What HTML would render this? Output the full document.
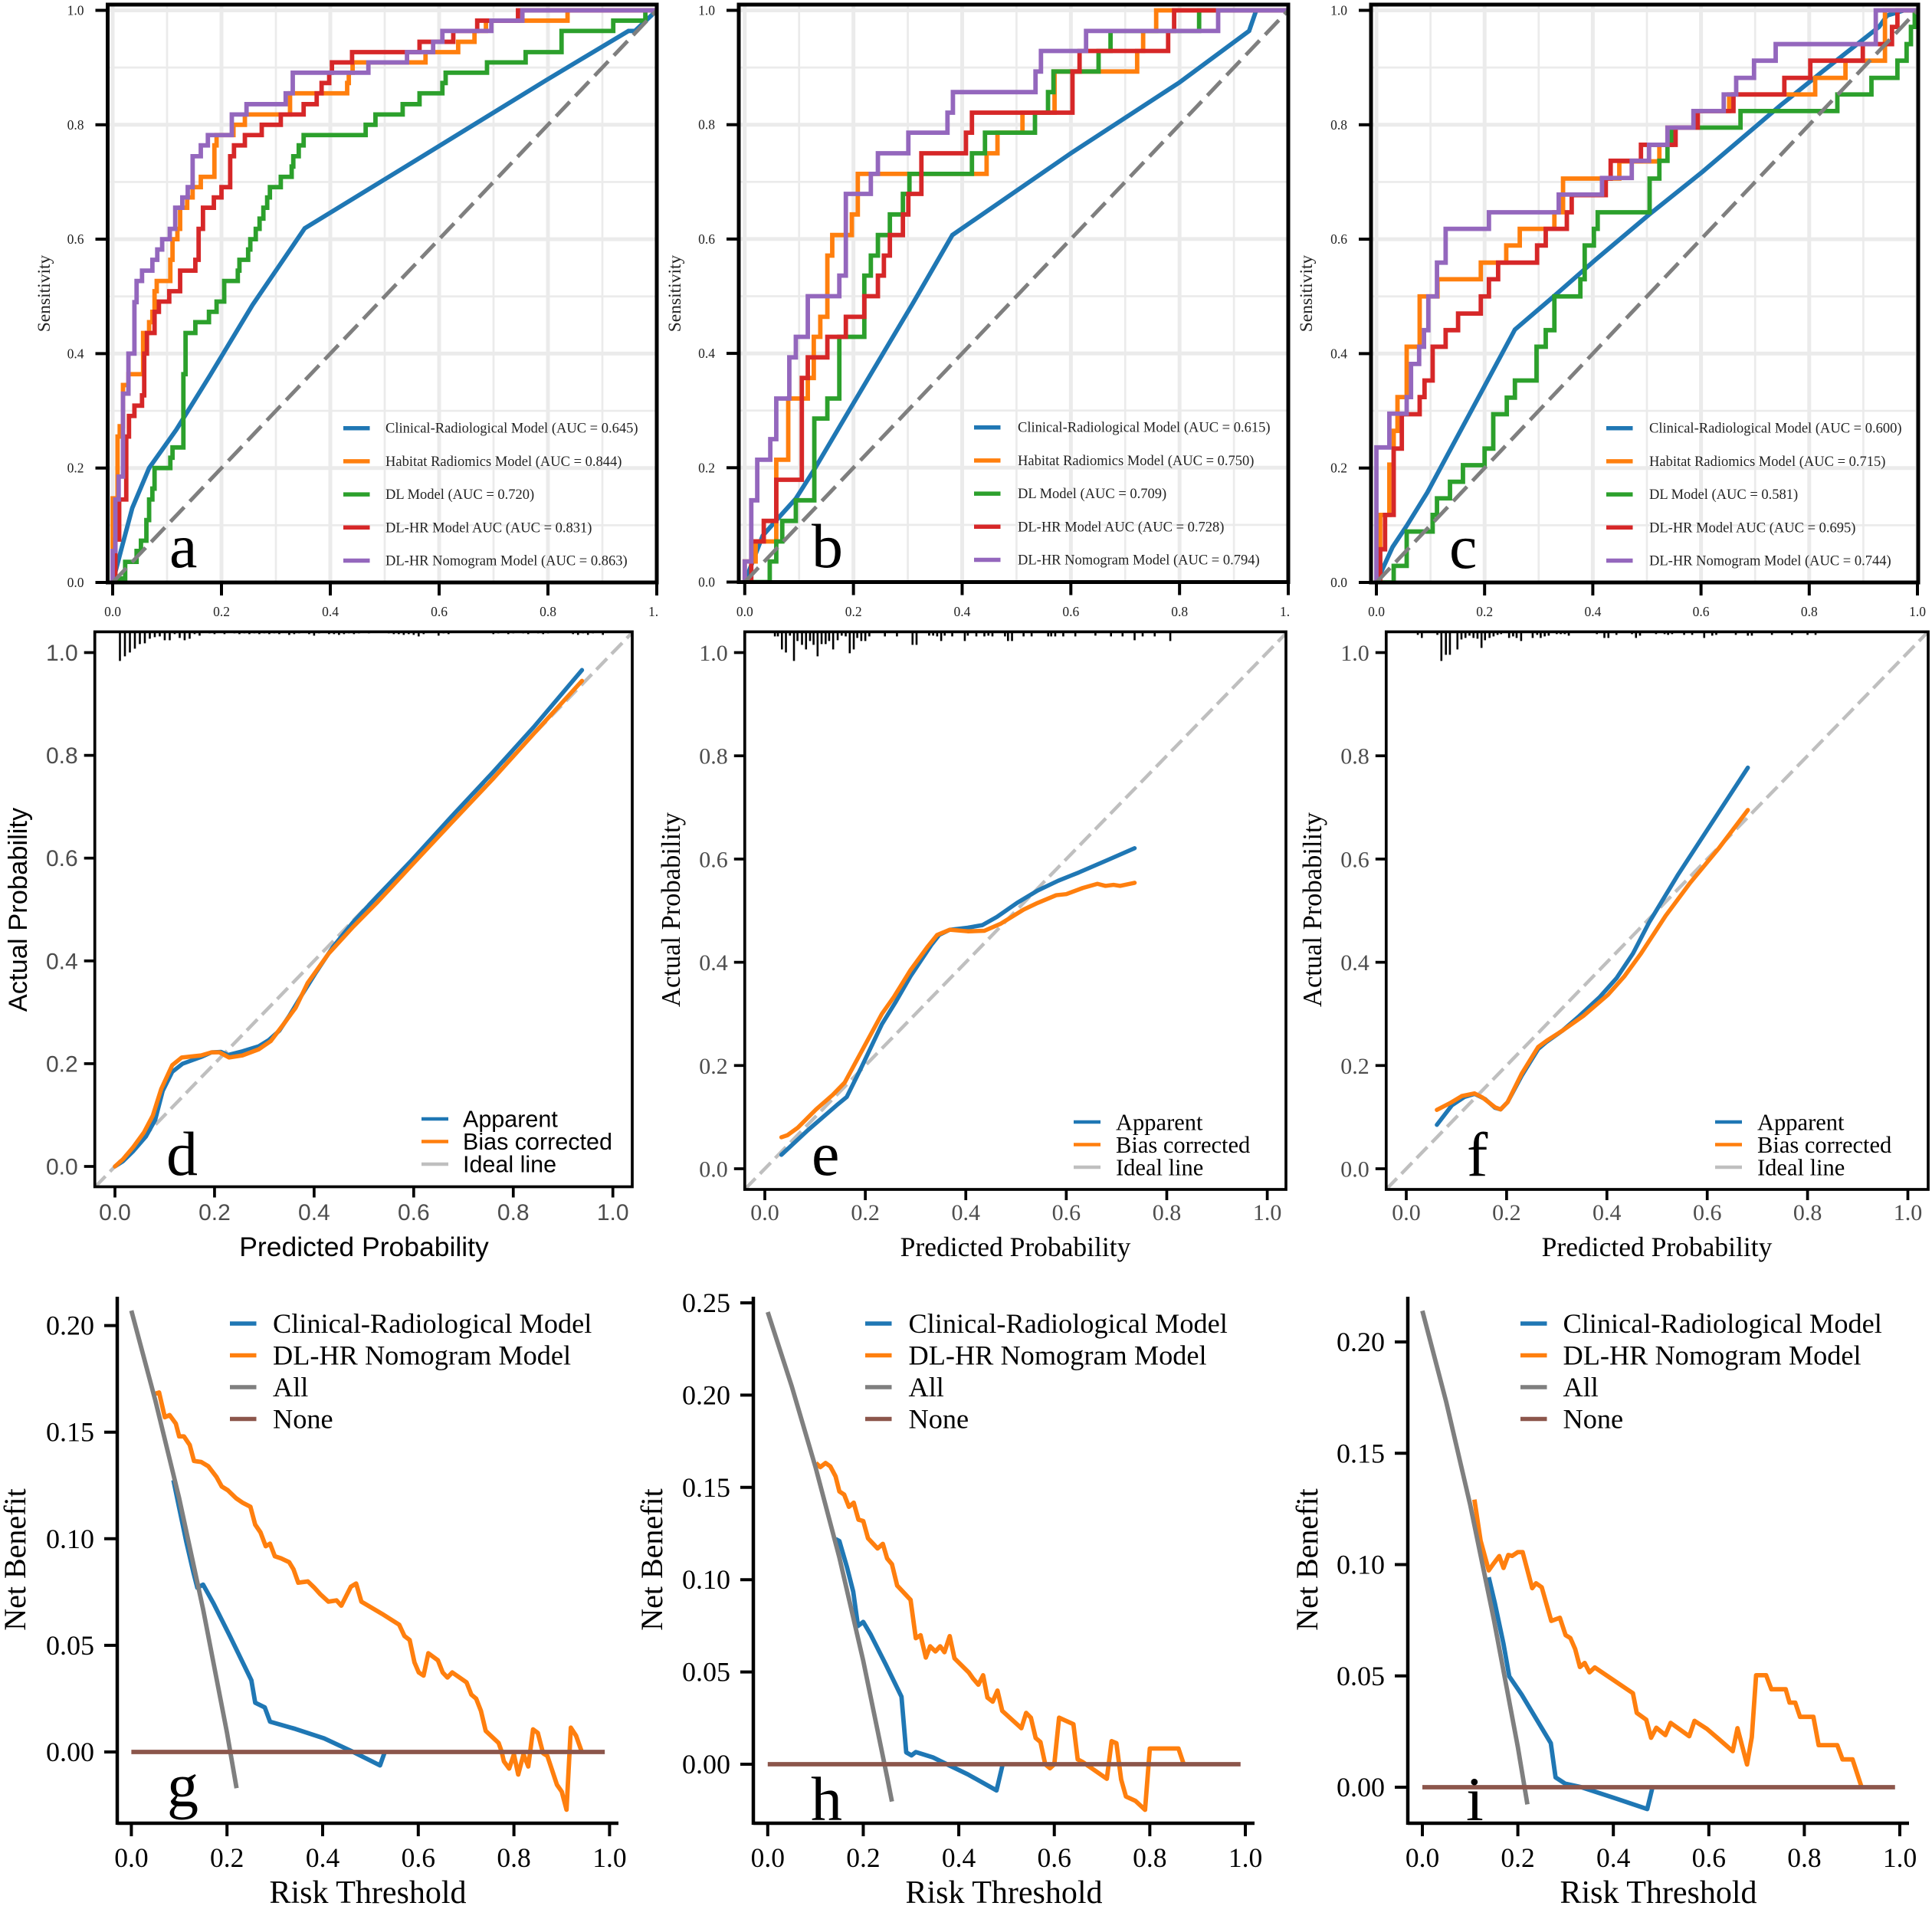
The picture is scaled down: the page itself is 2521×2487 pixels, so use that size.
<!DOCTYPE html>
<html lang="en">
<head>
<meta charset="utf-8">
<title>ROC, calibration and decision curves</title>
<style>
html,body{margin:0;padding:0;background:#fff;width:2521px;height:2487px;overflow:hidden}
svg{display:block}
</style>
</head>
<body>
<svg id="fig" xmlns="http://www.w3.org/2000/svg" width="2521" height="2487" viewBox="0 0 2521 2487">
<rect x="0" y="0" width="2521" height="2487" fill="#ffffff"/>
</svg>
<script>
/* ---------- shared tick values and labels ---------- */
const rocTickValues = [0, 0.2, 0.4, 0.6, 0.8, 1];
const rocTickLabels = ['0.0', '0.2', '0.4', '0.6', '0.8', '1.0'];
const rocMinorGrid = [0.1, 0.3, 0.5, 0.7, 0.9];
const rocModelNames = ['Clinical-Radiological Model', 'Habitat Radiomics Model', 'DL Model', 'DL-HR Model AUC', 'DL-HR Nomogram Model'];
const calLegendNames = ['Apparent', 'Bias corrected', 'Ideal line'];
const dcaLegendNames = ['Clinical-Radiological Model', 'DL-HR Nomogram Model', 'All', 'None'];
const dcaXTicks = [0, 0.2, 0.4, 0.6, 0.8, 1];
const dcaXTickLabels = ['0.0', '0.2', '0.4', '0.6', '0.8', '1.0'];
const dcaYTicksG = [0, 0.05, 0.1, 0.15, 0.2];
const dcaYTickLabelsG = ['0.00', '0.05', '0.10', '0.15', '0.20'];
const dcaYTicksH = [0, 0.05, 0.1, 0.15, 0.2, 0.25];
const dcaYTickLabelsH = ['0.00', '0.05', '0.10', '0.15', '0.20', '0.25'];
const dcaYTicksI = [0, 0.05, 0.1, 0.15, 0.2];
const dcaYTickLabelsI = ['0.00', '0.05', '0.10', '0.15', '0.20'];

/* ---------- ROC panel a ---------- */
const aucA = ['0.645', '0.844', '0.720', '0.831', '0.863'];
const rocAClinicalFpr = [0, 0.017, 0.036, 0.067, 0.117, 0.179, 0.257, 0.353, 0.566, 0.797, 0.948, 0.96, 1];
const rocAClinicalTpr = [0, 0.062, 0.13, 0.2, 0.267, 0.362, 0.485, 0.619, 0.743, 0.878, 0.964, 0.964, 1];
const rocAHabitatFpr = [0, 0.009, 0.013, 0.019, 0.029, 0.056, 0.067, 0.073, 0.077, 0.081, 0.106, 0.11, 0.119, 0.124, 0.137, 0.147, 0.162, 0.187, 0.191, 0.222, 0.243, 0.326, 0.431, 0.434, 0.441, 0.575, 0.635, 0.665, 0.686, 0.836, 1];
const rocAHabitatTpr = [0.147, 0.255, 0.273, 0.345, 0.364, 0.436, 0.455, 0.473, 0.509, 0.527, 0.564, 0.6, 0.618, 0.655, 0.673, 0.691, 0.709, 0.764, 0.782, 0.8, 0.818, 0.855, 0.873, 0.891, 0.909, 0.927, 0.945, 0.964, 0.982, 1, 1];
const rocADlFpr = [0.003, 0.023, 0.044, 0.052, 0.062, 0.067, 0.073, 0.077, 0.106, 0.11, 0.13, 0.134, 0.152, 0.177, 0.191, 0.205, 0.23, 0.233, 0.249, 0.253, 0.263, 0.27, 0.277, 0.284, 0.289, 0.309, 0.329, 0.332, 0.342, 0.351, 0.465, 0.483, 0.533, 0.564, 0.606, 0.612, 0.688, 0.759, 0.825, 0.92, 0.979];
const rocADlTpr = [0.007, 0.036, 0.055, 0.073, 0.109, 0.145, 0.164, 0.2, 0.218, 0.236, 0.364, 0.436, 0.455, 0.473, 0.491, 0.527, 0.545, 0.564, 0.582, 0.6, 0.618, 0.636, 0.655, 0.673, 0.691, 0.709, 0.727, 0.745, 0.764, 0.782, 0.8, 0.818, 0.836, 0.855, 0.873, 0.891, 0.909, 0.927, 0.964, 0.982, 1];
const rocADlHrFpr = [0.005, 0.012, 0.025, 0.03, 0.04, 0.054, 0.058, 0.063, 0.077, 0.085, 0.104, 0.124, 0.152, 0.158, 0.166, 0.186, 0.2, 0.216, 0.223, 0.243, 0.274, 0.309, 0.351, 0.375, 0.384, 0.398, 0.403, 0.44, 0.564, 0.626, 0.67, 0.745];
const rocADlHrTpr = [0.075, 0.145, 0.255, 0.291, 0.309, 0.327, 0.4, 0.436, 0.473, 0.491, 0.509, 0.545, 0.564, 0.618, 0.655, 0.673, 0.691, 0.745, 0.764, 0.782, 0.8, 0.818, 0.836, 0.855, 0.873, 0.891, 0.909, 0.927, 0.945, 0.964, 0.982, 1];
const rocANomogramFpr = [0, 0.005, 0.011, 0.019, 0.029, 0.04, 0.044, 0.054, 0.073, 0.082, 0.091, 0.105, 0.115, 0.128, 0.138, 0.147, 0.162, 0.175, 0.219, 0.246, 0.318, 0.331, 0.47, 0.541, 0.589, 0.606, 0.696, 0.753];
const rocANomogramTpr = [0.055, 0.145, 0.185, 0.33, 0.4, 0.49, 0.527, 0.545, 0.564, 0.582, 0.6, 0.618, 0.655, 0.673, 0.691, 0.745, 0.764, 0.782, 0.818, 0.836, 0.855, 0.891, 0.909, 0.927, 0.945, 0.964, 0.982, 1];

/* ---------- ROC panel b ---------- */
const aucB = ['0.615', '0.750', '0.709', '0.728', '0.794'];
const rocBClinicalFpr = [0, 0.033, 0.058, 0.094, 0.128, 0.192, 0.309, 0.382, 0.6, 0.8, 0.928, 0.941, 1];
const rocBClinicalTpr = [0, 0.081, 0.108, 0.146, 0.197, 0.3, 0.487, 0.607, 0.75, 0.874, 0.964, 1, 1];
const rocBHabitatFpr = [0, 0.02, 0.058, 0.08, 0.116, 0.127, 0.139, 0.152, 0.161, 0.197, 0.208, 0.445, 0.465, 0.511, 0.57, 0.722, 0.733, 0.757, 1];
const rocBHabitatTpr = [0.036, 0.071, 0.214, 0.321, 0.357, 0.429, 0.464, 0.571, 0.607, 0.643, 0.714, 0.75, 0.786, 0.821, 0.893, 0.929, 0.964, 1, 1];
const rocBDlFpr = [0.046, 0.058, 0.069, 0.094, 0.128, 0.152, 0.174, 0.22, 0.232, 0.245, 0.267, 0.291, 0.303, 0.418, 0.442, 0.534, 0.558, 0.568, 0.651, 0.673, 0.836];
const rocBDlTpr = [0.036, 0.071, 0.107, 0.143, 0.286, 0.321, 0.429, 0.536, 0.571, 0.607, 0.643, 0.679, 0.714, 0.75, 0.786, 0.821, 0.857, 0.893, 0.929, 0.964, 1];
const rocBDlHrFpr = [0.012, 0.035, 0.058, 0.105, 0.116, 0.152, 0.186, 0.22, 0.245, 0.256, 0.267, 0.291, 0.301, 0.325, 0.407, 0.418, 0.603, 0.616, 0.779, 0.79];
const rocBDlHrTpr = [0.071, 0.107, 0.179, 0.357, 0.393, 0.429, 0.464, 0.5, 0.536, 0.571, 0.607, 0.643, 0.679, 0.75, 0.786, 0.821, 0.893, 0.929, 0.964, 1];
const rocBNomogramFpr = [0, 0.012, 0.023, 0.047, 0.058, 0.082, 0.094, 0.116, 0.174, 0.186, 0.232, 0.245, 0.301, 0.373, 0.383, 0.535, 0.545, 0.628, 0.871];
const rocBNomogramTpr = [0.036, 0.143, 0.214, 0.25, 0.321, 0.393, 0.429, 0.5, 0.536, 0.679, 0.714, 0.75, 0.786, 0.821, 0.857, 0.893, 0.929, 0.964, 1];

/* ---------- ROC panel c ---------- */
const aucC = ['0.600', '0.715', '0.581', '0.695', '0.744'];
const rocCClinicalFpr = [0, 0.03, 0.056, 0.094, 0.14, 0.193, 0.256, 0.329, 0.405, 0.504, 0.603, 0.747, 0.823, 0.929, 0.944, 0.975, 1];
const rocCClinicalTpr = [0, 0.062, 0.099, 0.157, 0.238, 0.331, 0.442, 0.501, 0.564, 0.643, 0.718, 0.834, 0.892, 0.971, 0.991, 1, 1];
const rocCHabitatFpr = [0.007, 0.024, 0.032, 0.039, 0.056, 0.08, 0.113, 0.193, 0.24, 0.265, 0.329, 0.345, 0.449, 0.523, 0.538, 0.587, 0.652, 0.811, 0.867, 0.94];
const rocCHabitatTpr = [0.118, 0.206, 0.265, 0.324, 0.412, 0.5, 0.53, 0.559, 0.589, 0.618, 0.647, 0.706, 0.736, 0.765, 0.795, 0.824, 0.853, 0.882, 0.912, 1];
const rocCDlFpr = [0.032, 0.056, 0.104, 0.112, 0.136, 0.16, 0.2, 0.216, 0.241, 0.256, 0.296, 0.313, 0.329, 0.377, 0.385, 0.402, 0.409, 0.505, 0.523, 0.538, 0.546, 0.673, 0.852, 0.915, 0.963, 0.98, 0.988, 0.995];
const rocCDlTpr = [0.029, 0.089, 0.118, 0.147, 0.176, 0.205, 0.234, 0.294, 0.323, 0.353, 0.412, 0.441, 0.5, 0.53, 0.589, 0.618, 0.647, 0.706, 0.737, 0.765, 0.795, 0.824, 0.853, 0.882, 0.912, 0.941, 0.971, 1];
const rocCDlHrFpr = [0.007, 0.016, 0.032, 0.047, 0.08, 0.089, 0.104, 0.128, 0.151, 0.193, 0.208, 0.225, 0.297, 0.313, 0.352, 0.361, 0.424, 0.433, 0.489, 0.553, 0.594, 0.66, 0.754, 0.802, 0.899, 0.953, 0.963];
const rocCDlHrTpr = [0.058, 0.118, 0.234, 0.294, 0.324, 0.353, 0.412, 0.441, 0.47, 0.5, 0.53, 0.559, 0.589, 0.618, 0.647, 0.677, 0.706, 0.737, 0.765, 0.795, 0.824, 0.853, 0.882, 0.912, 0.941, 0.971, 1];
const rocCNomogramFpr = [0, 0.024, 0.056, 0.064, 0.079, 0.088, 0.096, 0.112, 0.128, 0.208, 0.337, 0.417, 0.472, 0.504, 0.538, 0.586, 0.642, 0.665, 0.698, 0.738, 0.923];
const rocCNomogramTpr = [0.236, 0.295, 0.324, 0.382, 0.412, 0.441, 0.5, 0.559, 0.618, 0.647, 0.678, 0.707, 0.737, 0.765, 0.795, 0.824, 0.853, 0.882, 0.912, 0.941, 1];

/* ---------- calibration panel d ---------- */
const calDApparentX = [0, 0.016, 0.037, 0.062, 0.081, 0.096, 0.115, 0.136, 0.173, 0.194, 0.213, 0.227, 0.256, 0.289, 0.309, 0.33, 0.35, 0.375, 0.404, 0.437, 0.478, 0.528, 0.594, 0.676, 0.758, 0.841, 0.938];
const calDApparentY = [0, 0.01, 0.03, 0.058, 0.091, 0.147, 0.184, 0.2, 0.213, 0.222, 0.223, 0.217, 0.224, 0.234, 0.246, 0.264, 0.293, 0.333, 0.378, 0.426, 0.475, 0.527, 0.594, 0.681, 0.766, 0.855, 0.966];
const calDBiasX = [0, 0.016, 0.037, 0.058, 0.076, 0.093, 0.115, 0.134, 0.173, 0.194, 0.21, 0.229, 0.256, 0.289, 0.313, 0.338, 0.363, 0.387, 0.429, 0.478, 0.528, 0.594, 0.676, 0.758, 0.841, 0.938];
const calDBiasY = [0, 0.014, 0.038, 0.066, 0.099, 0.151, 0.197, 0.212, 0.216, 0.222, 0.222, 0.212, 0.216, 0.228, 0.244, 0.276, 0.309, 0.357, 0.414, 0.466, 0.515, 0.584, 0.669, 0.753, 0.842, 0.945];
const calDRugX = [0.01, 0.02, 0.03, 0.04, 0.05, 0.06, 0.07, 0.08, 0.09, 0.1, 0.11, 0.12, 0.13, 0.14, 0.15, 0.16, 0.17, 0.19, 0.2, 0.22, 0.24, 0.25, 0.26, 0.27, 0.28, 0.29, 0.3, 0.31, 0.32, 0.33, 0.35, 0.36, 0.37, 0.39, 0.4, 0.41, 0.43, 0.44, 0.45, 0.46, 0.47, 0.48, 0.49, 0.51, 0.55, 0.56, 0.57, 0.58, 0.59, 0.6, 0.61, 0.62, 0.65, 0.66, 0.67, 0.76, 0.77, 0.79, 0.8, 0.82, 0.83, 0.85, 0.86, 0.87, 0.92, 0.93, 0.94, 0.95, 0.96, 0.98];
const calDRugCount = [38, 32, 27, 22, 16, 15, 9, 7, 6, 11, 11, 3, 8, 11, 9, 3, 5, 2, 3, 3, 2, 3, 2, 3, 2, 3, 2, 3, 2, 3, 4, 3, 2, 3, 5, 2, 3, 3, 4, 3, 2, 3, 2, 2, 2, 3, 3, 4, 3, 4, 6, 3, 5, 2, 3, 3, 2, 3, 2, 2, 3, 2, 3, 2, 3, 4, 2, 4, 2, 4];

/* ---------- calibration panel e ---------- */
const calEApparentX = [0.033, 0.086, 0.143, 0.163, 0.192, 0.233, 0.261, 0.29, 0.331, 0.347, 0.368, 0.404, 0.433, 0.462, 0.502, 0.543, 0.584, 0.625, 0.682, 0.736];
const calEApparentY = [0.027, 0.075, 0.123, 0.139, 0.196, 0.28, 0.324, 0.373, 0.433, 0.453, 0.463, 0.467, 0.472, 0.488, 0.515, 0.539, 0.558, 0.574, 0.598, 0.621];
const calEBiasX = [0.033, 0.045, 0.065, 0.102, 0.135, 0.159, 0.184, 0.233, 0.257, 0.29, 0.323, 0.343, 0.368, 0.404, 0.437, 0.47, 0.515, 0.543, 0.58, 0.6, 0.633, 0.662, 0.678, 0.694, 0.707, 0.736];
const calEBiasY = [0.061, 0.065, 0.079, 0.115, 0.143, 0.167, 0.212, 0.3, 0.333, 0.385, 0.429, 0.453, 0.463, 0.46, 0.461, 0.475, 0.502, 0.515, 0.53, 0.532, 0.544, 0.552, 0.548, 0.55, 0.548, 0.554];
const calERugX = [0.02, 0.026, 0.034, 0.042, 0.05, 0.058, 0.065, 0.074, 0.082, 0.09, 0.097, 0.105, 0.113, 0.121, 0.128, 0.136, 0.145, 0.153, 0.161, 0.169, 0.177, 0.184, 0.192, 0.2, 0.208, 0.239, 0.263, 0.294, 0.302, 0.327, 0.335, 0.343, 0.351, 0.358, 0.373, 0.398, 0.404, 0.421, 0.437, 0.445, 0.453, 0.478, 0.484, 0.492, 0.515, 0.531, 0.564, 0.57, 0.578, 0.594, 0.618, 0.658, 0.689, 0.712, 0.736, 0.752, 0.776, 0.807];
const calERugCount = [6, 6, 23, 27, 5, 38, 12, 17, 23, 12, 17, 32, 16, 16, 12, 23, 11, 5, 6, 28, 23, 8, 12, 12, 6, 6, 6, 17, 17, 5, 5, 6, 12, 5, 6, 12, 5, 6, 6, 5, 6, 6, 12, 12, 6, 6, 6, 6, 6, 6, 6, 5, 6, 6, 11, 6, 6, 12];

/* ---------- calibration panel f ---------- */
const calFApparentX = [0.061, 0.091, 0.116, 0.136, 0.157, 0.177, 0.188, 0.202, 0.23, 0.263, 0.28, 0.312, 0.345, 0.386, 0.419, 0.452, 0.484, 0.542, 0.599, 0.681];
const calFApparentY = [0.085, 0.123, 0.139, 0.145, 0.135, 0.118, 0.115, 0.129, 0.18, 0.232, 0.246, 0.268, 0.296, 0.333, 0.369, 0.417, 0.477, 0.57, 0.655, 0.777];
const calFBiasX = [0.061, 0.087, 0.111, 0.136, 0.152, 0.177, 0.188, 0.202, 0.23, 0.263, 0.28, 0.312, 0.353, 0.402, 0.435, 0.468, 0.517, 0.566, 0.624, 0.681];
const calFBiasY = [0.114, 0.127, 0.141, 0.146, 0.138, 0.119, 0.115, 0.129, 0.184, 0.236, 0.248, 0.268, 0.296, 0.337, 0.373, 0.417, 0.49, 0.554, 0.622, 0.695];
const calFRugX = [0.023, 0.031, 0.062, 0.07, 0.079, 0.087, 0.102, 0.11, 0.118, 0.126, 0.134, 0.142, 0.15, 0.157, 0.166, 0.174, 0.182, 0.189, 0.205, 0.213, 0.22, 0.229, 0.252, 0.261, 0.268, 0.276, 0.284, 0.3, 0.308, 0.316, 0.324, 0.38, 0.395, 0.403, 0.419, 0.45, 0.458, 0.466, 0.498, 0.515, 0.522, 0.53, 0.554, 0.57, 0.594, 0.61, 0.618, 0.657, 0.681, 0.689, 0.729, 0.769, 0.8, 0.816];
const calFRugCount = [4, 8, 4, 38, 30, 30, 23, 10, 8, 5, 8, 9, 21, 11, 8, 6, 4, 3, 8, 6, 8, 12, 8, 4, 8, 6, 5, 3, 3, 3, 5, 3, 8, 8, 4, 3, 8, 5, 3, 3, 4, 3, 4, 4, 8, 5, 4, 4, 5, 5, 4, 4, 4, 4];

/* ---------- decision curve panel g ---------- */
const dcaGClinicalT = [0.088, 0.1, 0.115, 0.13, 0.138, 0.15, 0.172, 0.206, 0.251, 0.259, 0.279, 0.29, 0.343, 0.403, 0.464, 0.52, 0.53];
const dcaGClinicalNb = [0.1275, 0.1145, 0.0985, 0.084, 0.077, 0.0785, 0.0696, 0.0544, 0.0336, 0.0231, 0.0209, 0.0142, 0.0108, 0.0064, 0, -0.0063, 0];
const dcaGNomogramT = [0.05, 0.058, 0.07, 0.08, 0.093, 0.1, 0.11, 0.122, 0.131, 0.146, 0.161, 0.178, 0.189, 0.202, 0.219, 0.232, 0.249, 0.259, 0.27, 0.281, 0.29, 0.3, 0.313, 0.33, 0.339, 0.349, 0.369, 0.382, 0.395, 0.412, 0.429, 0.439, 0.459, 0.47, 0.481, 0.524, 0.56, 0.571, 0.582, 0.592, 0.601, 0.611, 0.621, 0.641, 0.651, 0.661, 0.671, 0.701, 0.711, 0.721, 0.731, 0.741, 0.768, 0.774, 0.779, 0.79, 0.8, 0.809, 0.82, 0.83, 0.84, 0.85, 0.861, 0.87, 0.89, 0.9, 0.91, 0.919, 0.93, 0.942];
const dcaGNomogramNb = [0.168, 0.1686, 0.157, 0.158, 0.154, 0.148, 0.148, 0.144, 0.1365, 0.136, 0.134, 0.129, 0.1245, 0.1227, 0.119, 0.117, 0.115, 0.1066, 0.103, 0.0965, 0.0977, 0.0918, 0.0908, 0.089, 0.0857, 0.0794, 0.08, 0.0772, 0.074, 0.0705, 0.0711, 0.0686, 0.0775, 0.079, 0.0705, 0.0648, 0.0597, 0.0544, 0.0525, 0.042, 0.0373, 0.0358, 0.0463, 0.043, 0.0373, 0.0349, 0.0373, 0.0326, 0.0269, 0.025, 0.0193, 0.0099, 0.0042, 0.0004, -0.0044, -0.0078, -0.0011, -0.0106, -0.0011, -0.0068, 0.0106, 0.0089, -0.0006, -0.0019, -0.0154, -0.0186, -0.0271, 0.0114, 0.0076, 0];
const dcaGAllT = [0, 0.05, 0.1, 0.15, 0.2, 0.22];
const dcaGAllNb = [0.207, 0.165, 0.119, 0.067, 0.009, -0.017];
const dcaGNoneT = [0, 0.99];
const dcaGNoneNb = [0, 0];

/* ---------- decision curve panel h ---------- */
const dcaHClinicalT = [0.142, 0.15, 0.166, 0.179, 0.189, 0.2, 0.215, 0.247, 0.28, 0.29, 0.301, 0.31, 0.346, 0.375, 0.419, 0.479, 0.492];
const dcaHClinicalNb = [0.122, 0.1209, 0.1067, 0.0935, 0.0749, 0.0771, 0.0705, 0.0541, 0.0366, 0.0064, 0.0048, 0.0066, 0.0037, 0, -0.0055, -0.0142, 0];
const dcaHNomogramT = [0.101, 0.11, 0.121, 0.131, 0.142, 0.15, 0.16, 0.17, 0.18, 0.19, 0.2, 0.21, 0.23, 0.241, 0.25, 0.26, 0.271, 0.299, 0.31, 0.32, 0.331, 0.34, 0.351, 0.361, 0.37, 0.381, 0.391, 0.421, 0.43, 0.441, 0.451, 0.46, 0.471, 0.481, 0.491, 0.531, 0.541, 0.551, 0.561, 0.571, 0.581, 0.591, 0.6, 0.61, 0.64, 0.649, 0.66, 0.71, 0.72, 0.73, 0.74, 0.75, 0.77, 0.79, 0.8, 0.86, 0.871];
const dcaHNomogramNb = [0.1632, 0.161, 0.1632, 0.1614, 0.156, 0.1478, 0.1461, 0.1395, 0.1417, 0.1325, 0.1318, 0.1224, 0.1169, 0.1194, 0.1115, 0.1084, 0.0968, 0.0891, 0.0683, 0.0699, 0.0578, 0.0639, 0.0611, 0.0639, 0.0607, 0.0694, 0.0574, 0.0497, 0.0464, 0.0431, 0.0482, 0.0361, 0.0339, 0.0399, 0.0289, 0.0195, 0.0278, 0.0252, 0.0142, 0.012, 0, -0.0022, 0, 0.0252, 0.0217, 0.0026, 0.0011, -0.0079, 0.0125, 0.0114, -0.0083, -0.0175, -0.0199, -0.0247, 0.0085, 0.0085, 0];
const dcaHAllT = [0, 0.05, 0.1, 0.15, 0.2, 0.25, 0.26];
const dcaHAllNb = [0.245, 0.205, 0.161, 0.112, 0.056, -0.007, -0.0202];
const dcaHNoneT = [0, 0.99];
const dcaHNoneNb = [0, 0];

/* ---------- decision curve panel i ---------- */
const dcaIClinicalT = [0.139, 0.152, 0.17, 0.182, 0.208, 0.269, 0.279, 0.299, 0.333, 0.406, 0.471, 0.482];
const dcaIClinicalNb = [0.0943, 0.0825, 0.0643, 0.0498, 0.0416, 0.0198, 0.0044, 0.0016, 0, -0.0051, -0.0098, 0];
const dcaINomogramT = [0.109, 0.122, 0.139, 0.15, 0.161, 0.17, 0.18, 0.188, 0.2, 0.21, 0.23, 0.238, 0.25, 0.27, 0.288, 0.3, 0.31, 0.32, 0.33, 0.34, 0.35, 0.361, 0.441, 0.449, 0.469, 0.479, 0.49, 0.509, 0.52, 0.559, 0.57, 0.596, 0.621, 0.65, 0.66, 0.68, 0.69, 0.699, 0.72, 0.731, 0.761, 0.769, 0.781, 0.791, 0.819, 0.83, 0.869, 0.88, 0.901, 0.92];
const dcaINomogramNb = [0.1292, 0.1107, 0.0974, 0.1007, 0.1038, 0.0985, 0.1043, 0.1039, 0.1056, 0.1056, 0.0894, 0.0916, 0.0898, 0.0747, 0.0761, 0.0683, 0.067, 0.0621, 0.054, 0.0558, 0.0516, 0.0538, 0.0422, 0.0334, 0.0303, 0.0222, 0.0267, 0.0234, 0.0289, 0.0229, 0.0298, 0.0262, 0.0216, 0.0162, 0.0265, 0.0102, 0.0225, 0.0503, 0.0503, 0.044, 0.044, 0.038, 0.038, 0.0316, 0.0316, 0.0189, 0.0189, 0.0125, 0.0125, 0];
const dcaIAllT = [0, 0.05, 0.1, 0.15, 0.2, 0.22];
const dcaIAllNb = [0.214, 0.173, 0.127, 0.075, 0.018, -0.0077];
const dcaINoneT = [0, 0.99];
const dcaINoneNb = [0, 0];

/* ---------- rendering ---------- */
const SVGNS = 'http://www.w3.org/2000/svg';
const root = document.getElementById('fig');
const SERIF = '"Liberation Serif", serif';
const SANS = '"Liberation Sans", sans-serif';
const BLUE = '#1f77b4', ORANGE = '#ff7f0e', GREEN = '#2ca02c', RED = '#d62728', PURPLE = '#9467bd', GRAY = '#7f7f7f', BROWN = '#8c564b';

function linearScale(d0, d1, r0, r1) {
  return function (v) { return r0 + (v - d0) * (r1 - r0) / (d1 - d0); };
}
function make(tag, parent, props) {
  const n = document.createElementNS(SVGNS, tag);
  for (const k in props) { n.setAttribute(k, props[k]); }
  parent.appendChild(n);
  return n;
}
function seg(parent, x1, y1, x2, y2, stroke, w) {
  return make('line', parent, { x1: x1, y1: y1, x2: x2, y2: y2, stroke: stroke, 'stroke-width': w });
}
function label(parent, s, x, y, size, family, anchor, fill) {
  const t = make('text', parent, { x: x, y: y, 'font-size': size, 'font-family': family, 'text-anchor': anchor, fill: fill });
  t.textContent = s;
  return t;
}
function vlabel(parent, s, x, y, size, family, fill) {
  const t = label(parent, s, x, y, size, family, 'middle', fill);
  t.setAttribute('transform', 'rotate(-90 ' + x + ' ' + y + ')');
  return t;
}
function polyPath(xs, ys, sx, sy) {
  let d = '';
  const n = Math.min(xs.length, ys.length);
  for (let i = 0; i < n; i++) { d += (i ? 'L' : 'M') + sx(xs[i]).toFixed(2) + ' ' + sy(ys[i]).toFixed(2); }
  return d;
}
function stepPath(fpr, tpr, sx, sy) {
  let d = 'M' + sx(0).toFixed(2) + ' ' + sy(0).toFixed(2);
  const n = Math.min(fpr.length, tpr.length);
  let prev = 0;
  for (let i = 0; i < n; i++) {
    d += 'L' + sx(fpr[i]).toFixed(2) + ' ' + sy(prev).toFixed(2);
    d += 'L' + sx(fpr[i]).toFixed(2) + ' ' + sy(tpr[i]).toFixed(2);
    prev = tpr[i];
  }
  d += 'L' + sx(1).toFixed(2) + ' ' + sy(prev).toFixed(2);
  return d;
}
function clipFor(id, x, y, w, h) {
  const c = make('clipPath', root, { id: id });
  make('rect', c, { x: x, y: y, width: w, height: h });
}

function drawRoc(p, curves, aucs) {
  const g = make('g', root, {});
  
  
  const sx = linearScale(0, 1, p.x0, p.x1);
  const sy = linearScale(0, 1, p.y0, p.y1);
  clipFor('clip-' + p.id, p.left, p.top, p.right - p.left, p.bottom - p.top);

  rocMinorGrid.forEach(function (v) {
    const a = seg(g, sx(v), p.top, sx(v), p.bottom, '#ebebeb', 2.7);
    
    
    const b = seg(g, p.left, sy(v), p.right, sy(v), '#ebebeb', 2.7);
    
    
  });
  rocTickValues.forEach(function (v) {
    const a = seg(g, sx(v), p.top, sx(v), p.bottom, '#ebebeb', 5);
    
    
    const b = seg(g, p.left, sy(v), p.right, sy(v), '#ebebeb', 5);
    
    
  });

  const colors = [BLUE, ORANGE, GREEN, RED, PURPLE];
  curves.forEach(function (c, i) {
    const d = i === 0 ? polyPath(c[0], c[1], sx, sy) : stepPath(c[0], c[1], sx, sy);
    const el = make('path', g, { d: d, fill: 'none', stroke: colors[i], 'stroke-width': 5.8, 'stroke-linejoin': 'miter', 'clip-path': 'url(#clip-' + p.id + ')' });
    
    
  });
  const diag = seg(g, sx(0), sy(0), sx(1), sy(1), GRAY, 5);
  diag.setAttribute('stroke-dasharray', '26 10.5');
  
  

  const frame = make('rect', g, { x: p.left, y: p.top, width: p.right - p.left, height: p.bottom - p.top, fill: 'none', stroke: '#000', 'stroke-width': 5 });
  
  

  rocTickValues.forEach(function (v, i) {
    const tx = seg(g, sx(v), p.bottom, sx(v), p.bottom + 17, '#000', 4);
    
    
    const ty = seg(g, p.left - 16, sy(v), p.left, sy(v), '#000', 4);
    
    
    let xt;
    if (i === 5 && p.clipLast) {
      xt = label(g, '1.', sx(v) - 11, 804, 17.5, SERIF, 'start', '#222');
    } else {
      xt = label(g, rocTickLabels[i], sx(v), 804, 17.5, SERIF, 'middle', '#222');
    }
    
    
    const yt = label(g, rocTickLabels[i], p.left - 31, sy(v) + 6, 17.5, SERIF, 'end', '#222');
    
    
  });
  const yTitle = vlabel(g, 'Sensitivity', p.titleX, 383, 23.5, SERIF, '#222');
  
  

  rocModelNames.forEach(function (name, i) {
    const ly = p.legY + i * 43.2;
    const ln = seg(g, p.legLine, ly, p.legLine + 34.5, ly, colors[i], 5.5);
    
    
    const tx = label(g, name + ' (AUC = ' + aucs[i] + ')', p.legText, ly + 6, 18.5, SERIF, 'start', '#222');
    
    
  });
  const letter = label(g, p.id, p.letterX, p.letterY, 82, SERIF, 'start', '#000');
  
  
}

function drawCal(p, appX, appY, biasX, biasY, rugX, rugCount) {
  const g = make('g', root, {});
  
  
  const sx = linearScale(0, 1, p.x0, p.x1);
  const sy = linearScale(0, 1, p.y0, p.y1);
  clipFor('clip-' + p.id, p.left, p.top, p.right - p.left, p.bottom - p.top);
  const lims = [(p.left - p.x0) / (p.x1 - p.x0), (p.right - p.x0) / (p.x1 - p.x0)];

  const ideal = seg(g, sx(lims[0]), sy(lims[0]), sx(lims[1]), sy(lims[1]), '#bfbfbf', 4.5);
  ideal.setAttribute('stroke-dasharray', '20 8.5');
  ideal.setAttribute('clip-path', 'url(#clip-' + p.id + ')');
  
  

  const a = make('path', g, { d: polyPath(appX, appY, sx, sy), fill: 'none', stroke: BLUE, 'stroke-width': 5.5, 'stroke-linejoin': 'round', 'stroke-linecap': 'round' });
  
  
  const b = make('path', g, { d: polyPath(biasX, biasY, sx, sy), fill: 'none', stroke: ORANGE, 'stroke-width': 5.5, 'stroke-linejoin': 'round', 'stroke-linecap': 'round' });
  
  

  rugX.forEach(function (v, i) {
    const r = seg(g, sx(v), p.top, sx(v), p.top + rugCount[i], '#000', 2.6);
    
    
  });

  const frame = make('rect', g, { x: p.left, y: p.top, width: p.right - p.left, height: p.bottom - p.top, fill: 'none', stroke: '#000', 'stroke-width': 3.7 });
  
  

  rocTickValues.forEach(function (v, i) {
    const tx = seg(g, sx(v), p.bottom, sx(v), p.bottom + 14, '#000', 3.7);
    
    
    const ty = seg(g, p.left - 14, sy(v), p.left, sy(v), '#000', 3.7);
    
    
    const xt = label(g, rocTickLabels[i], sx(v), 1592, 30, p.font, 'middle', '#4d4d4d');
    
    
    const yt = label(g, rocTickLabels[i], p.left - 22, sy(v) + 10.5, 30, p.font, 'end', '#4d4d4d');
    
    
  });
  const xTitle = label(g, 'Predicted Probability', p.xTitleX, 1639, 35.5, p.font, 'middle', '#000');
  
  
  const yTitle = vlabel(g, 'Actual Probability', p.yTitleX, 1187, p.titleSize, p.font, '#000');
  
  

  const legColors = [BLUE, ORANGE, '#bfbfbf'];
  calLegendNames.forEach(function (name, i) {
    const ly = p.legY + i * 29.5;
    const ln = seg(g, p.legLine, ly, p.legLine + 35, ly, legColors[i], 4.5);
    
    
    const tx = label(g, name, p.legText, ly + 10.5, p.legSize, p.font, 'start', '#000');
    
    
  });
  const letter = label(g, p.id, p.letterX, p.letterY, 82, SERIF, 'start', '#000');
  
  
}

function drawDca(p, series, yTicks, yLabels) {
  const g = make('g', root, {});
  
  
  const sx = linearScale(0, 1, p.x0, p.x1);
  const sy = linearScale(0, p.refValue, p.yZero, p.yRef);
  const colors = [BLUE, ORANGE, GRAY, BROWN];

  series.forEach(function (s, i) {
    const el = make('path', g, { d: polyPath(s[0], s[1], sx, sy), fill: 'none', stroke: colors[i], 'stroke-width': 5.8, 'stroke-linejoin': 'round' });
    
    
  });

  const ySpine = seg(g, p.spineX, p.spineTop, p.spineX, p.spineBottom + 2, '#000', 4.5);
  
  
  const xSpine = seg(g, p.spineX, p.spineBottom, p.spineRight, p.spineBottom, '#000', 4.5);
  
  

  dcaXTicks.forEach(function (v, i) {
    const t = seg(g, sx(v), p.spineBottom, sx(v), p.spineBottom + 17, '#000', 4);
    
    
    const xt = label(g, dcaXTickLabels[i], sx(v), 2436, 35.5, SERIF, 'middle', '#000');
    
    
  });
  yTicks.forEach(function (v, i) {
    const t = seg(g, p.spineX - 17, sy(v), p.spineX, sy(v), '#000', 4);
    
    
    const yt = label(g, yLabels[i], p.spineX - 30, sy(v) + 12, 36, SERIF, 'end', '#000');
    
    
  });
  const xTitle = label(g, 'Risk Threshold', p.xTitleX, 2483, 42, SERIF, 'middle', '#000');
  
  
  const yTitle = vlabel(g, 'Net Benefit', p.yTitleX, 2035, 40, SERIF, '#000');
  
  

  dcaLegendNames.forEach(function (name, i) {
    const ly = 1727 + i * 41.5;
    const ln = seg(g, p.legLine, ly, p.legLine + 34.5, ly, colors[i], 5.5);
    
    
    const tx = label(g, name, p.legText, ly + 12, 36.3, SERIF, 'start', '#000');
    
    
  });
  const letter = label(g, p.id, p.letterX, p.letterY, 82, SERIF, 'start', '#000');
  
  
}

drawRoc({ id: 'a', x0: 147, x1: 857, y0: 760, y1: 13.5, left: 140.5, right: 857, top: 6, bottom: 760, titleX: 65, legY: 558.7, legLine: 448, legText: 503, letterX: 221, letterY: 740, clipLast: true },
  [[rocAClinicalFpr, rocAClinicalTpr], [rocAHabitatFpr, rocAHabitatTpr], [rocADlFpr, rocADlTpr], [rocADlHrFpr, rocADlHrTpr], [rocANomogramFpr, rocANomogramTpr]], aucA);
drawRoc({ id: 'b', x0: 971.8, x1: 1681, y0: 759.5, y1: 13.5, left: 964, right: 1681, top: 6, bottom: 759.5, titleX: 888, legY: 557.7, legLine: 1271, legText: 1328, letterX: 1059, letterY: 740, clipLast: true },
  [[rocBClinicalFpr, rocBClinicalTpr], [rocBHabitatFpr, rocBHabitatTpr], [rocBDlFpr, rocBDlTpr], [rocBDlHrFpr, rocBDlHrTpr], [rocBNomogramFpr, rocBNomogramTpr]], aucB);
drawRoc({ id: 'c', x0: 1796, x1: 2502, y0: 760, y1: 13.5, left: 1789, right: 2503, top: 6, bottom: 760, titleX: 1712, legY: 558.7, legLine: 2096, legText: 2152, letterX: 1891, letterY: 741, clipLast: false },
  [[rocCClinicalFpr, rocCClinicalTpr], [rocCHabitatFpr, rocCHabitatTpr], [rocCDlFpr, rocCDlTpr], [rocCDlHrFpr, rocCDlHrTpr], [rocCNomogramFpr, rocCNomogramTpr]], aucC);

drawCal({ id: 'd', x0: 150, x1: 799.7, y0: 1522, y1: 851.5, left: 123.7, right: 825, top: 824.4, bottom: 1548.5, font: SANS, titleSize: 34.5, xTitleX: 475, yTitleX: 35, legY: 1460, legLine: 550, legText: 604, legSize: 30.5, letterX: 217, letterY: 1533 },
  calDApparentX, calDApparentY, calDBiasX, calDBiasY, calDRugX, calDRugCount);
drawCal({ id: 'e', x0: 998, x1: 1653.6, y0: 1525, y1: 851.5, left: 971.8, right: 1678, top: 824.4, bottom: 1552, font: SERIF, titleSize: 34.5, xTitleX: 1325, yTitleX: 887, legY: 1464, legLine: 1401, legText: 1456, legSize: 30.5, letterX: 1059, letterY: 1533 },
  calEApparentX, calEApparentY, calEBiasX, calEBiasY, calERugX, calERugCount);
drawCal({ id: 'f', x0: 1835, x1: 2489.5, y0: 1525, y1: 851.5, left: 1808.8, right: 2516, top: 824.4, bottom: 1552, font: SERIF, titleSize: 34.5, xTitleX: 2162, yTitleX: 1724, legY: 1464, legLine: 2238, legText: 2293, legSize: 30.5, letterX: 1914, letterY: 1534 },
  calFApparentX, calFApparentY, calFBiasX, calFBiasY, calFRugX, calFRugCount);

drawDca({ id: 'g', x0: 171.4, x1: 795.4, yZero: 2286, yRef: 1729.6, refValue: 0.2, spineX: 153, spineTop: 1692, spineBottom: 2379, spineRight: 807, xTitleX: 480, yTitleX: 33, legLine: 300, legText: 356, letterX: 218, letterY: 2357 },
  [[dcaGClinicalT, dcaGClinicalNb], [dcaGNomogramT, dcaGNomogramNb], [dcaGAllT, dcaGAllNb], [dcaGNoneT, dcaGNoneNb]], dcaYTicksG, dcaYTickLabelsG);
drawDca({ id: 'h', x0: 1001.8, x1: 1625, yZero: 2302, yRef: 1700, refValue: 0.25, spineX: 983, spineTop: 1692, spineBottom: 2379, spineRight: 1637, xTitleX: 1310, yTitleX: 864, legLine: 1129, legText: 1185.5, letterX: 1058, letterY: 2375 },
  [[dcaHClinicalT, dcaHClinicalNb], [dcaHNomogramT, dcaHNomogramNb], [dcaHAllT, dcaHAllNb], [dcaHNoneT, dcaHNoneNb]], dcaYTicksH, dcaYTickLabelsH);
drawDca({ id: 'i', x0: 1856, x1: 2479, yZero: 2332, yRef: 1751, refValue: 0.2, spineX: 1837, spineTop: 1692, spineBottom: 2379, spineRight: 2491, xTitleX: 2164, yTitleX: 1719, legLine: 1984, legText: 2039.5, letterX: 1913, letterY: 2375 },
  [[dcaIClinicalT, dcaIClinicalNb], [dcaINomogramT, dcaINomogramNb], [dcaIAllT, dcaIAllNb], [dcaINoneT, dcaINoneNb]], dcaYTicksI, dcaYTickLabelsI);
</script>
</body>
</html>
